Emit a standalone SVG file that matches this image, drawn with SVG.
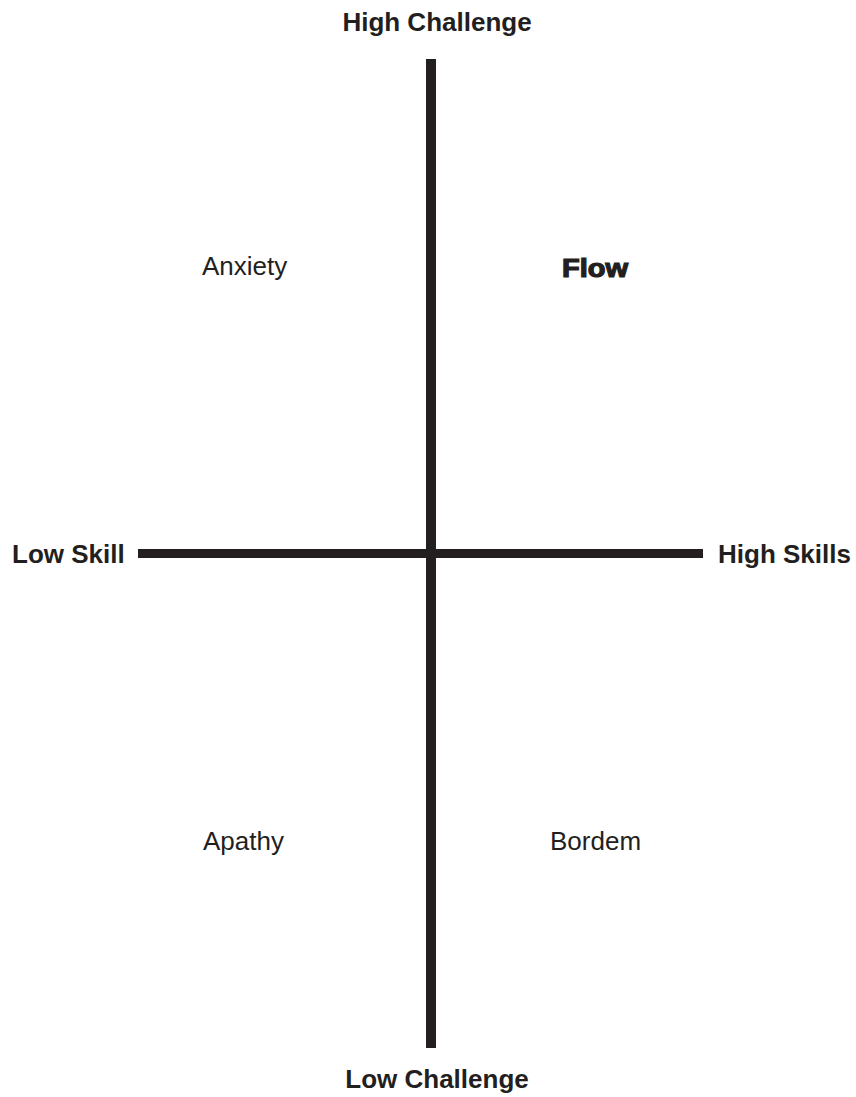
<svg xmlns="http://www.w3.org/2000/svg" width="856" height="1097" viewBox="0 0 856 1097">
<style>
.b{font-family:"Liberation Sans",Arial,sans-serif;font-weight:bold;font-size:26px;fill:#231f20}
.r{font-family:"Liberation Sans",Arial,sans-serif;font-size:26px;fill:#231f20}
.h{font-family:"Liberation Sans",Arial,sans-serif;font-weight:900;font-size:25px;fill:#231f20;stroke:#231f20;stroke-width:1.2}
.ax{fill:#231f20}
</style>
<rect width="856" height="1097" fill="#fff"/>
<g id="axes">
<rect class="ax" x="426" y="59" width="10" height="989"/>
<rect class="ax" x="138" y="549" width="565" height="9"/>
</g>
<g id="high-challenge"><text class="b" x="437" y="31" text-anchor="middle">High Challenge</text></g>
<g id="low-challenge"><text class="b" x="437" y="1088" text-anchor="middle">Low Challenge</text></g>
<g id="low-skill"><text class="b" x="12" y="563">Low Skill</text></g>
<g id="high-skills"><text class="b" x="718" y="563">High Skills</text></g>
<g id="anxiety"><text class="r" x="202" y="275">Anxiety</text></g>
<g id="flow"><text class="h" x="562" y="277" textLength="66" lengthAdjust="spacingAndGlyphs">Flow</text></g>
<g id="apathy"><text class="r" x="203" y="850">Apathy</text></g>
<g id="bordem"><text class="r" x="550" y="850">Bordem</text></g>
</svg>
